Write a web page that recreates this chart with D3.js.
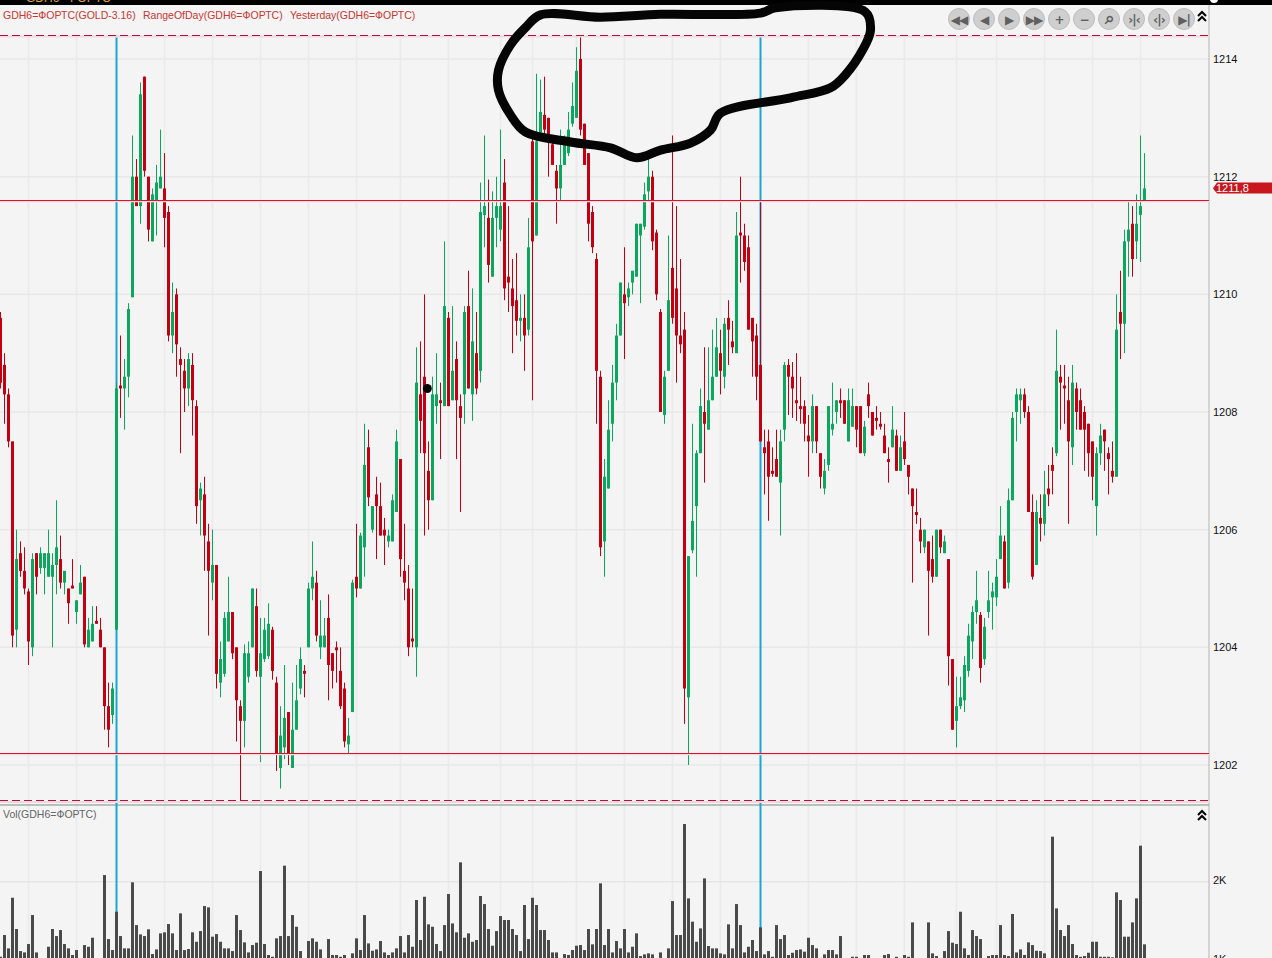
<!DOCTYPE html>
<html>
<head>
<meta charset="utf-8">
<script src="https://cdn.jsdelivr.net/npm/d3@7"></script>
<style>
  html, body { margin: 0; padding: 0; background: #f4f4f5; overflow: hidden; }
  svg { display: block; }
  text { font-family: 'Liberation Sans', sans-serif; }
</style>
</head>
<body>
<div id="chart"></div>
<script>
const opens = [
  1209.6,1208.8,1208.3,1207.5,1204.3,1205.6,1205.3,1204.95,1204.0,1205.6,
  1205.35,1205.35,1205.2,1205.2,1205.4,1205.5,1205.1,1205.0,1205.05,1204.6,
  1204.9,1205.2,1204.0,1204.1,1204.45,1204.3,1204.0,1203.0,1202.85,1204.3,
  1208.45,1208.4,1208.6,1209.95,1212.0,1211.5,1213.7,1212.0,1210.9,1211.6,
  1211.8,1211.8,1211.4,1209.3,1210.0,1208.9,1208.7,1208.4,1208.8,1208.1,
  1206.5,1206.6,1205.8,1205.1,1205.4,1203.4,1203.55,1204.1,1204.6,1204.0,
  1203.0,1202.75,1203.5,1204.0,1204.7,1203.5,1203.8,1203.85,1204.3,1203.4,
  1201.95,1202.3,1202.9,1201.95,1202.6,1203.3,1203.6,1204.0,1205.0,1205.1,
  1204.0,1204.0,1204.5,1203.9,1204.0,1203.6,1203.3,1202.35,1202.9,1205.2,
  1205.0,1205.7,1207.4,1206.0,1206.6,1206.4,1206.0,1205.8,1205.8,1206.3,
  1207.2,1205.3,1205.0,1204.15,1204.0,1208.3,1208.6,1207.0,1206.5,1208.1,
  1208.2,1208.1,1209.6,1208.2,1208.9,1208.1,1208.3,1209.8,1208.3,1209.0,
  1208.7,1211.35,1211.3,1210.3,1211.3,1211.1,1211.9,1210.3,1210.1,1209.9,
  1209.55,1209.6,1209.4,1212.6,1211.0,1212.75,1213.05,1213.0,1212.55,1212.1,
  1211.8,1212.2,1212.4,1212.9,1213.0,1214.0,1212.9,1212.4,1211.4,1210.6,
  1208.6,1205.8,1206.7,1207.8,1208.5,1209.3,1210.0,1209.95,1210.2,1210.3,
  1211.0,1211.15,1211.75,1212.0,1211.05,1209.7,1207.95,1208.7,1210.45,1210.1,
  1209.3,1209.4,1203.15,1205.65,1206.4,1207.3,1208.0,1207.7,1208.2,1208.6,
  1209.0,1208.6,1209.6,1209.2,1209.0,1211.05,1211.0,1210.8,1209.6,1209.3,
  1208.8,1207.4,1207.5,1207.0,1207.2,1206.8,1207.7,1208.8,1208.6,1208.2,
  1208.1,1208.1,1207.6,1207.5,1208.1,1207.3,1206.7,1207.1,1207.7,1208.0,
  1208.2,1208.2,1207.5,1207.75,1208.1,1208.1,1207.3,1208.3,1208.0,1207.9,
  1207.8,1207.6,1207.2,1207.4,1207.6,1207.0,1207.5,1207.1,1206.7,1206.3,
  1206.0,1205.7,1205.8,1205.5,1205.2,1206.0,1205.6,1205.5,1203.8,1202.75,
  1203.0,1203.1,1203.6,1204.1,1204.6,1204.55,1203.8,1204.6,1204.85,1204.85,
  1205.5,1205.8,1205.1,1206.5,1208.0,1208.2,1208.3,1208.0,1206.3,1205.4,
  1206.2,1206.1,1206.7,1207.1,1207.3,1208.6,1208.45,1208.2,1207.4,1208.4,
  1208.2,1208.0,1207.8,1207.5,1206.4,1207.3,1207.7,1207.3,1207.0,1206.9,
  1209.7,1209.5,1210.9,1211.2,1210.9,1211.35,1211.6
]
const highs = [
  1209.7,1209.0,1208.4,1207.5,1206.0,1205.8,1205.7,1205.0,1205.6,1205.6,
  1205.7,1205.6,1206.0,1205.6,1206.5,1205.9,1205.3,1205.0,1205.5,1204.8,
  1205.4,1205.2,1204.5,1204.7,1204.7,1204.5,1204.0,1203.4,1203.4,1208.5,
  1209.3,1208.9,1209.85,1212.7,1212.3,1213.6,1213.7,1212.0,1211.8,1212.2,
  1212.8,1212.4,1211.5,1210.2,1210.1,1209.1,1208.9,1209.0,1209.0,1208.2,
  1206.8,1206.9,1206.1,1206.0,1205.4,1204.1,1204.6,1205.2,1204.6,1204.0,
  1203.1,1204.05,1204.1,1205.0,1205.0,1204.5,1204.5,1204.75,1204.35,1203.5,
  1203.0,1203.7,1202.9,1203.4,1203.7,1204.0,1203.7,1205.1,1205.8,1205.3,
  1204.8,1204.5,1204.9,1203.9,1204.1,1204.0,1203.4,1202.8,1205.15,1206.1,
  1205.95,1207.8,1207.7,1206.4,1206.9,1206.8,1206.2,1206.0,1206.6,1207.7,
  1207.2,1206.1,1205.4,1205.0,1209.1,1209.2,1210.0,1207.5,1208.6,1209.0,
  1208.5,1210.9,1209.7,1209.8,1209.2,1208.3,1209.8,1210.4,1210.1,1209.7,
  1211.9,1212.7,1211.95,1211.75,1212.0,1212.8,1212.3,1211.5,1210.6,1210.7,
  1210.0,1210.0,1211.3,1212.7,1213.75,1213.65,1213.7,1213.0,1212.6,1212.2,
  1212.8,1212.7,1213.1,1213.6,1214.2,1214.4,1212.9,1212.4,1211.5,1210.7,
  1208.7,1207.2,1208.2,1208.8,1209.5,1210.2,1210.8,1210.2,1210.4,1211.2,
  1211.2,1211.9,1212.3,1212.1,1211.1,1209.75,1208.7,1211.0,1212.7,1211.5,
  1210.6,1209.7,1205.55,1207.8,1207.35,1208.4,1209.1,1209.1,1209.4,1209.6,
  1209.4,1209.6,1209.9,1209.55,1211.4,1212.0,1211.2,1211.0,1209.6,1209.5,
  1211.6,1207.7,1207.7,1207.4,1207.7,1207.7,1208.85,1208.9,1208.85,1209.0,
  1208.6,1208.2,1207.95,1208.3,1208.1,1207.3,1207.2,1208.1,1208.5,1208.2,
  1208.4,1208.2,1208.4,1208.4,1208.1,1208.1,1207.85,1208.5,1208.0,1208.1,
  1208.0,1207.8,1207.4,1208.1,1207.7,1207.6,1208.0,1207.1,1206.7,1206.7,
  1206.2,1206.0,1205.8,1205.9,1206.0,1206.0,1205.9,1205.5,1203.8,1203.5,
  1203.5,1203.85,1204.4,1204.7,1205.3,1204.6,1204.5,1205.3,1205.1,1205.5,
  1206.4,1205.9,1206.7,1208.0,1208.4,1208.4,1208.4,1208.1,1206.6,1206.5,
  1206.6,1207.0,1207.1,1207.4,1209.4,1208.8,1208.8,1208.6,1208.8,1208.5,
  1208.4,1208.1,1207.8,1207.5,1207.4,1207.8,1207.7,1207.4,1207.5,1210.0,
  1210.4,1211.1,1211.6,1211.5,1211.7,1212.7,1212.4
]
const lows = [
  1208.4,1207.8,1207.4,1204.0,1204.0,1205.2,1204.9,1203.7,1203.85,1204.9,
  1205.25,1204.9,1205.2,1204.0,1204.9,1205.0,1204.9,1204.4,1205.0,1204.4,
  1204.9,1204.0,1204.0,1204.1,1204.4,1204.0,1202.6,1202.3,1202.7,1204.3,
  1207.9,1207.7,1208.25,1209.95,1211.5,1211.2,1212.0,1210.9,1210.9,1211.0,
  1211.8,1210.8,1209.2,1209.0,1208.6,1207.3,1208.0,1208.1,1207.6,1206.1,
  1205.9,1205.3,1204.2,1204.8,1203.3,1203.15,1203.5,1204.1,1203.8,1202.4,
  1201.4,1202.3,1203.4,1204.0,1203.5,1202.05,1203.75,1203.8,1203.45,1201.9,
  1201.6,1202.1,1202.0,1201.95,1202.6,1203.2,1203.15,1204.0,1204.8,1204.1,
  1203.8,1204.0,1203.1,1203.3,1203.4,1202.95,1202.3,1202.2,1202.9,1204.85,
  1205.0,1205.2,1206.4,1205.95,1205.5,1205.9,1205.4,1205.7,1205.8,1206.3,
  1205.2,1204.8,1203.85,1204.0,1203.5,1207.3,1205.9,1206.0,1206.5,1207.8,
  1207.2,1208.1,1208.1,1208.2,1207.2,1206.3,1207.8,1208.4,1207.85,1208.3,
  1208.5,1210.8,1210.2,1210.3,1210.8,1210.9,1209.9,1209.7,1209.0,1209.3,
  1209.2,1208.7,1209.3,1208.2,1211.0,1212.7,1212.7,1212.0,1212.2,1211.2,
  1211.6,1212.2,1212.35,1212.85,1213.0,1212.7,1212.2,1210.9,1210.7,1207.8,
  1205.55,1205.2,1206.7,1207.5,1208.2,1209.3,1208.9,1209.8,1210.0,1210.3,
  1209.85,1211.1,1211.6,1210.75,1209.9,1208.0,1207.8,1208.7,1209.5,1208.5,
  1209.0,1202.7,1202.0,1205.6,1205.2,1207.3,1206.8,1207.7,1208.2,1208.6,
  1208.3,1208.4,1208.8,1209.0,1209.0,1210.2,1210.4,1209.4,1208.6,1208.2,
  1207.5,1206.6,1206.15,1206.9,1206.9,1205.9,1207.5,1207.95,1207.9,1207.85,
  1207.8,1207.5,1206.9,1207.3,1207.3,1206.7,1206.6,1207.0,1207.6,1207.8,
  1207.9,1207.8,1207.5,1207.75,1207.4,1207.3,1207.25,1207.9,1207.6,1207.7,
  1207.7,1207.3,1206.8,1207.4,1207.0,1207.0,1207.1,1206.6,1205.1,1206.1,
  1205.6,1205.6,1204.2,1205.1,1205.2,1205.6,1205.6,1203.35,1202.6,1202.3,
  1202.95,1202.9,1203.5,1203.8,1204.4,1203.4,1203.7,1204.5,1204.3,1204.7,
  1205.5,1205.0,1205.0,1206.5,1207.5,1207.8,1207.9,1206.3,1205.15,1205.4,
  1205.8,1205.9,1206.4,1206.6,1207.25,1207.7,1207.8,1206.1,1207.1,1207.7,
  1207.7,1207.0,1206.9,1206.5,1205.9,1207.1,1207.0,1206.6,1206.8,1206.9,
  1208.9,1209.0,1210.3,1210.3,1210.6,1210.55,1211.6
]
const closes = [
  1208.5,1208.3,1207.5,1204.2,1205.5,1205.3,1205.0,1204.1,1205.5,1205.2,
  1205.6,1205.6,1205.6,1205.4,1205.7,1205.1,1205.3,1204.75,1205.0,1204.8,
  1205.1,1204.05,1204.3,1204.4,1204.4,1204.0,1203.0,1202.6,1203.3,1208.4,
  1208.4,1208.6,1209.75,1212.0,1211.5,1213.4,1212.1,1211.1,1211.7,1211.9,
  1212.0,1211.3,1209.3,1209.7,1209.15,1208.8,1208.4,1208.9,1208.2,1206.4,
  1206.7,1205.9,1205.3,1205.4,1203.55,1203.8,1204.5,1204.6,1203.9,1203.1,
  1202.75,1203.9,1203.9,1205.0,1203.6,1203.9,1204.3,1204.4,1203.6,1202.2,
  1202.5,1202.8,1202.2,1202.6,1203.1,1203.8,1203.55,1205.0,1205.2,1204.2,
  1204.2,1204.2,1203.7,1203.6,1203.95,1203.0,1202.4,1202.5,1205.1,1205.0,
  1205.9,1207.1,1206.55,1206.4,1206.4,1205.9,1205.9,1205.9,1206.5,1207.5,
  1205.5,1205.1,1204.0,1204.1,1208.5,1207.85,1207.3,1206.5,1208.3,1208.3,
  1208.15,1209.8,1208.1,1208.7,1208.2,1207.9,1209.7,1208.4,1209.2,1208.4,
  1211.4,1211.5,1210.5,1211.3,1211.5,1211.5,1210.1,1210.2,1209.8,1209.55,
  1209.6,1209.3,1210.8,1210.9,1212.6,1213.1,1212.8,1212.6,1212.2,1211.8,
  1212.2,1212.55,1212.8,1213.2,1213.8,1212.8,1212.2,1211.2,1210.8,1208.7,
  1205.7,1206.9,1207.7,1208.5,1209.3,1210.2,1209.85,1210.1,1210.4,1211.2,
  1211.2,1211.7,1212.0,1210.9,1210.0,1208.0,1208.6,1209.9,1209.6,1209.3,
  1209.15,1203.3,1205.55,1206.15,1207.3,1208.1,1207.8,1208.2,1208.6,1209.1,
  1208.7,1209.5,1209.4,1209.1,1211.0,1211.0,1210.55,1209.4,1209.2,1208.6,
  1207.5,1207.3,1206.9,1206.95,1206.9,1207.5,1208.8,1208.6,1208.4,1208.15,
  1208.05,1207.8,1207.5,1208.1,1207.5,1206.9,1207.0,1208.1,1207.8,1208.2,
  1208.15,1207.8,1208.2,1208.1,1207.7,1207.3,1207.75,1208.1,1207.6,1207.85,
  1207.75,1207.3,1207.15,1207.7,1207.0,1207.4,1207.2,1206.9,1206.4,1206.25,
  1205.8,1206.0,1205.3,1205.2,1206.0,1205.7,1205.8,1203.85,1202.6,1203.0,
  1203.15,1203.7,1204.2,1204.6,1204.8,1203.65,1204.35,1204.8,1204.95,1205.2,
  1205.9,1205.0,1206.5,1207.9,1208.3,1208.3,1208.0,1206.3,1205.2,1206.3,
  1206.1,1206.6,1206.6,1207.0,1208.7,1208.5,1208.4,1207.5,1208.5,1208.0,
  1207.7,1207.7,1207.3,1206.9,1207.3,1207.6,1207.5,1207.2,1206.9,1209.4,
  1209.5,1210.9,1211.1,1210.6,1211.2,1211.5,1211.8
]
// volumes under about 1030 fall below the bottom edge of the screenshot
const volumes = [
  1050,1325,1156,1797,1401,1122,1105,1211,1578,1105,
  1000,1000,1177,1401,1312,1388,1211,1156,1072,1135,
  1000,1198,1177,1291,1000,1000,2084,1274,1135,1620,
  1312,1156,1156,1992,1451,1333,1312,1397,1084,1143,
  1346,1359,1464,1346,1135,1599,1135,1148,1359,1240,
  1375,1692,1675,1304,1337,1240,1156,1156,1122,1578,
  1388,1232,1105,1198,1228,2135,1211,1072,1050,1283,
  1312,2203,1312,1578,1430,1122,1000,1249,1283,1240,
  1143,1000,1274,1072,1072,1050,1072,1000,1093,1283,
  1135,1578,1219,1126,1143,1249,1105,1072,1105,1156,
  1312,1105,1325,1177,1768,1262,1810,1460,1430,1211,
  1122,1451,1844,1472,1359,2245,1291,1346,1240,1262,
  1819,1717,1401,1190,1375,1565,1515,1515,1401,1325,
  1122,1705,1274,1797,1705,1388,1388,1262,1105,1105,
  1000,1084,1072,1135,1190,1198,1135,1401,1207,1401,
  1979,1198,1401,1105,1249,1156,1401,1105,1177,1346,
  1059,1080,1093,1080,1000,1105,1000,1156,1755,1325,
  1325,2730,1789,1494,1240,1409,2042,1186,1156,1156,
  1093,1080,1460,1156,1717,1451,1105,1177,1262,1122,
  1422,1080,1122,1050,1451,1274,1325,1072,1101,1135,
  1143,1114,1291,1198,1156,1000,1080,1135,1135,1080,
  1312,1000,1000,1050,1050,1000,1072,1072,1000,1000,
  1000,1072,1084,1000,1050,1000,1072,1050,1485,1000,
  1000,1000,1485,1093,1059,1000,1122,1375,1228,1211,
  1620,1156,1072,1388,1312,1274,1000,1059,1072,1072,
  1451,1072,1059,1591,1105,1143,1072,1232,1198,1126,
  1122,1093,1000,2570,1662,1388,1312,1451,1211,1072,
  1050,1059,1101,1240,1240,1050,1050,1050,1042,1865,
  1768,1304,1304,1485,1789,2456,1207
]

const priceTicks = [1202, 1204, 1206, 1208, 1210, 1212, 1214]
const volumeTicks = [1000, 2000]
const gridCandles = [7, 19, 41, 53, 65, 77, 89, 100, 112, 125, 133, 144, 156, 168, 180, 202, 214, 226, 239, 249, 261, 273, 285]
const markerCandles = [29, 190]
const rangeLevels = [1201.39, 1214.4]
const yesterdayLevels = [1202.2, 1211.6]
const lastPrice = '1211,8'
const lastPriceLevel = 1211.8
const buttonGlyphs = ['◀◀', '◀', '▶', '▶▶', '+', '−', '⌕', '›|‹', '‹|›', '▶|']

// hand-drawn loop on the screenshot, as candle index and price
const loopCandles = [135, 150, 165, 190, 193.7, 216.2, 217.5, 215.5, 211.2, 207.5, 197.5, 180, 177.5, 172.5, 165, 159, 152.5, 142.5, 131.2, 127.5, 124.5, 124.5, 127.5, 131.2]
const loopPrices = [1214.75, 1214.71, 1214.76, 1214.78, 1214.87, 1214.8, 1214.49, 1214.15, 1213.73, 1213.51, 1213.34, 1213.08, 1212.79, 1212.57, 1212.45, 1212.32, 1212.49, 1212.59, 1212.76, 1213.05, 1213.47, 1213.81, 1214.24, 1214.53]

const width = 1272
const height = 958
const axisX = 1209
const green = '#0aa75f'
const red = '#c20012'

const x = d3.scaleLinear().domain([0, 286]).range([0.5, 1144.5])
const y = d3.scaleLinear().domain([1202, 1214]).range([765, 59])
const yVol = d3.scaleLinear().domain([1000, 2000]).range([960.7, 881.7])

const candles = opens.map((open, i) => ({
  i,
  open,
  high: highs[i],
  low: lows[i],
  close: closes[i],
  volume: volumes[i]
}))

const svg = d3.select('#chart')
  .append('svg')
  .attr('width', width)
  .attr('height', height)

// grid
const grid = svg.append('g').attr('stroke', '#ebebeb')
grid.selectAll('.v')
  .data(gridCandles)
  .join('line')
  .attr('x1', d => x(d))
  .attr('x2', d => x(d))
  .attr('y1', 36)
  .attr('y2', height)
  .attr('stroke-width', 2)
grid.selectAll('.h')
  .data(priceTicks)
  .join('line')
  .attr('x1', 0)
  .attr('x2', axisX)
  .attr('y1', d => y(d))
  .attr('y2', d => y(d))
  .attr('stroke', '#e8e8e8')
  .attr('stroke-width', 1.5)
grid.append('line')
  .attr('x1', 0)
  .attr('x2', axisX)
  .attr('y1', yVol(2000))
  .attr('y2', yVol(2000))
  .attr('stroke', '#e6e6e6')
  .attr('stroke-width', 1.5)

// panel frame
svg.append('line')
  .attr('x1', axisX)
  .attr('x2', axisX)
  .attr('y1', 5)
  .attr('y2', height)
  .attr('stroke', '#b4b4b4')
svg.append('line')
  .attr('x1', 0)
  .attr('x2', axisX)
  .attr('y1', 805)
  .attr('y2', 805)
  .attr('stroke', '#9fb0aa')
  .attr('stroke-width', 1.5)

// blue markers run behind the candles
svg.append('g')
  .selectAll('line')
  .data(markerCandles)
  .join('line')
  .attr('x1', d => x(d))
  .attr('x2', d => x(d))
  .attr('y1', y(rangeLevels[1]))
  .attr('y2', height)
  .attr('stroke', '#18a6d6')
  .attr('stroke-width', 2)

// volume
svg.append('g')
  .selectAll('rect')
  .data(candles)
  .join('rect')
  .attr('x', d => x(d.i) - 1.5)
  .attr('width', 3)
  .attr('y', d => yVol(d.volume))
  .attr('height', d => Math.max(0, height - yVol(d.volume)))
  .attr('fill', '#4a4a4a')

// candles
const candle = svg.append('g')
  .selectAll('g')
  .data(candles)
  .join('g')
  .attr('fill', d => d.close >= d.open ? green : red)
  .attr('stroke', 'none')
candle.append('rect')
  .attr('x', d => x(d.i) - 0.5)
  .attr('width', 1)
  .attr('y', d => y(d.high))
  .attr('height', d => y(d.low) - y(d.high))
candle.append('rect')
  .attr('x', d => x(d.i) - 1.5)
  .attr('width', 3)
  .attr('y', d => y(Math.max(d.open, d.close)))
  .attr('height', d => Math.max(1, Math.abs(y(d.open) - y(d.close))))

// today's range (dashed) and yesterday's range (solid), with the pale halo of the screenshot
const levelLine = (levels, color, dash) => {
  const g = svg.append('g')
  g.selectAll('.halo')
    .data(levels)
    .join('line')
    .attr('x1', 0)
    .attr('x2', axisX)
    .attr('y1', d => y(d) + 1)
    .attr('y2', d => y(d) + 1)
    .attr('stroke', '#f3d9df')
    .attr('stroke-width', 2)
  g.selectAll('.level')
    .data(levels)
    .join('line')
    .attr('x1', 0)
    .attr('x2', axisX)
    .attr('y1', d => Math.floor(y(d)) + 0.5)
    .attr('y2', d => Math.floor(y(d)) + 0.5)
    .attr('stroke', color)
    .attr('stroke-dasharray', dash)
}
levelLine(rangeLevels, '#b8103c', '8,4')
levelLine(yesterdayLevels, '#e0102a', null)

// axes
const yAxis = svg.append('g')
  .attr('transform', `translate(${axisX}, 0)`)
  .call(d3.axisRight(y).tickValues(priceTicks).tickSize(0).tickPadding(4).tickFormat(d3.format('d')))
const volAxis = svg.append('g')
  .attr('transform', `translate(${axisX}, -2)`)
  .call(d3.axisRight(yVol).tickValues(volumeTicks).tickSize(0).tickPadding(4).tickFormat(d => `${d / 1000}K`))
for (const axis of [yAxis, volAxis]) {
  axis.select('.domain').remove()
  axis.selectAll('text')
    .attr('fill', '#111')
    .style('font-size', '11px')
}

// last price tag
const tagY = y(lastPriceLevel)
svg.append('path')
  .attr('d', d3.line()([[1213, tagY], [1217, tagY - 6], [width, tagY - 6], [width, tagY + 5], [1217, tagY + 5]]))
  .attr('fill', '#c8171e')
svg.append('text')
  .attr('x', 1216)
  .attr('y', tagY + 4)
  .attr('fill', '#fff')
  .style('font-size', '11px')
  .text(lastPrice)

// black strip of the window title, cut by the screenshot
svg.append('rect')
  .attr('width', width)
  .attr('height', 5)
  .attr('fill', '#000')
svg.append('circle')
  .attr('cx', 1214)
  .attr('cy', -1)
  .attr('r', 4)
  .attr('fill', '#fff')
svg.append('text')
  .attr('x', 26)
  .attr('y', 2)
  .attr('fill', '#d9a23a')
  .style('font-size', '12px')
  .text('GDH6 - FOPTC')

// legend labels
const titles = [
  ['GDH6=ФОРТС(GOLD-3.16)', 3, '#c8362f'],
  ['RangeOfDay(GDH6=ФОРТС)', 143, '#c8362f'],
  ['Yesterday(GDH6=ФОРТС)', 290, '#c8362f'],
  ['Vol(GDH6=ФОРТС)', 3, '#666']
]
svg.append('g')
  .selectAll('text')
  .data(titles)
  .join('text')
  .attr('x', d => d[1])
  .attr('y', (d, i) => i === 3 ? 818 : 19)
  .attr('fill', d => d[2])
  .style('font-size', '10.5px')
  .text(d => d[0])

// toolbar
const buttons = svg.append('g')
  .selectAll('g')
  .data(buttonGlyphs)
  .join('g')
  .attr('transform', (d, i) => `translate(${959 + i * 25}, 19)`)
buttons.append('circle')
  .attr('r', 10.5)
  .attr('fill', '#cfcfcf')
  .attr('stroke', '#bdbdbd')
buttons.append('text')
  .attr('text-anchor', 'middle')
  .attr('y', 4.5)
  .attr('fill', '#606060')
  .style('font-family', 'DejaVu Sans')
  .style('font-size', d => d === '⌕' ? '17px' : '12px')
  .style('font-weight', 'bold')
  .style('letter-spacing', '-1px')
  .text(d => d)

// collapse chevrons
svg.append('g')
  .selectAll('path')
  .data([17, 816])
  .join('path')
  .attr('transform', d => `translate(1202, ${d})`)
  .attr('d', 'M-4,-1L0,-5L4,-1M-4,4L0,0L4,4')
  .attr('fill', 'none')
  .attr('stroke', '#000')
  .attr('stroke-width', 2)

// hand-drawn annotation
const loopLine = d3.line()
  .x(d => x(d[0]))
  .y(d => y(d[1]))
  .curve(d3.curveCatmullRomClosed.alpha(0.5))
svg.append('path')
  .attr('d', loopLine(loopCandles.map((c, i) => [c, loopPrices[i]])))
  .attr('fill', 'none')
  .attr('stroke', '#050505')
  .attr('stroke-width', 9)
  .attr('stroke-linejoin', 'round')
svg.append('circle')
  .attr('cx', x(106.7))
  .attr('cy', y(1208.4))
  .attr('r', 4.5)
  .attr('fill', '#050505')
</script>
</body>
</html>
